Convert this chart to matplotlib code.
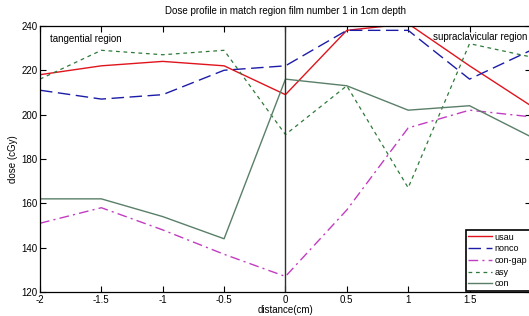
import matplotlib
matplotlib.use('Agg')
import matplotlib.pyplot as plt

# distance (cm) and dose (cGy) per technique
distance = [-2, -1.5, -1, -0.5, 0, 0.5, 1, 1.5, 2]
usau = [218, 222, 224, 222, 209, 238, 241, 222, 204]
nonco = [211, 207, 209, 220, 222, 238, 238, 216, 229]
con_gap = [151, 158, 148, 137, 127, 157, 194, 202, 199]
asy = [216, 229, 227, 229, 191, 213, 167, 232, 226]
con = [162, 162, 154, 144, 216, 213, 202, 204, 190]

xticks = [-2, -1.5, -1, -0.5, 0, 0.5, 1, 1.5, 2]
xticklabels = ['-2', '-1.5', '-1', '-0.5', '0', '0.5', '1', '1.5', '2']
yticks = [120, 140, 160, 180, 200, 220, 240]

plt.rcParams['font.family'] = ['Liberation Sans', 'DejaVu Sans']

fig = plt.figure(figsize=(5.29, 3.16), dpi=100)
ax = fig.add_axes([0.0756, 0.076, 0.928, 0.842])

ax.plot(distance, usau, color='#e0141c', lw=1.0, label='usau')
ax.plot(distance, nonco, color='#1c1ca8', lw=1.0, dashes=(9, 4), label='nonco')
ax.plot(distance, con_gap, color='#c23cc2', lw=1.0, dashes=(7, 3, 1.5, 3), label='con-gap')
ax.plot(distance, asy, color='#2e7a3a', lw=0.9, dashes=(3, 3), label='asy')
ax.plot(distance, con, color='#5a7f68', lw=1.0, label='con')

ax.axvline(0, color='#303030', lw=1.0)

ax.set_xlim(-2, 2)
ax.set_ylim(120, 240)
ax.set_xticks(xticks)
ax.set_xticklabels(xticklabels)
ax.set_yticks(yticks)
ax.tick_params(direction='in', labelsize=7, length=4, width=0.8,
               top=True, right=True, pad=2)
for s in ax.spines.values():
    s.set_linewidth(0.9)

ax.set_xlabel('distance(cm)', fontsize=7, labelpad=0)
ax.set_ylabel('dose (cGy)', fontsize=7, labelpad=2)
fig.text(0.54, 0.965, 'Dose profile in match region film number 1 in 1cm depth',
         ha='center', va='center', fontsize=7)

ax.text(-1.92, 234, 'tangential region', fontsize=7, va='center')
ax.text(1.2, 235, 'supraclavicular region', fontsize=7, va='center')

leg = ax.legend(loc='lower right', fontsize=6.5, borderaxespad=0.1,
                fancybox=False, framealpha=1, edgecolor='black',
                handlelength=2.6, handletextpad=0.3, labelspacing=0.3,
                borderpad=0.3)
leg.get_frame().set_linewidth(1.2)

fig.savefig('out.png', dpi=100)
